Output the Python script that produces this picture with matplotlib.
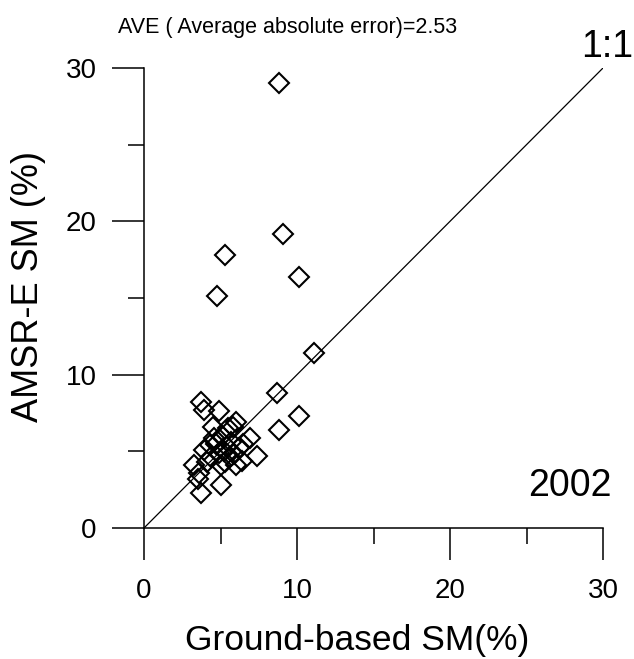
import matplotlib
matplotlib.use('Agg')
import matplotlib.pyplot as plt
from matplotlib.ticker import MultipleLocator

plt.rcParams['font.family'] = ['Liberation Sans', 'DejaVu Sans']

# ground-based SM (%) vs AMSR-E SM (%), 2002
ground = [8.8, 9.1, 5.3, 10.1, 4.8, 11.1, 8.7, 10.1, 8.8,
          3.7, 3.9, 4.9, 6.0, 5.8, 4.5, 5.5, 6.9, 5.1, 4.3, 3.9,
          7.4, 6.2, 4.9, 5.6, 5.3, 3.3, 3.6, 3.5, 5.0, 3.7, 6.0,
          5.7, 4.7, 5.2, 4.4, 6.4, 5.0, 4.6, 5.4, 6.5, 4.1, 5.9]
amsre = [29.0, 19.2, 17.8, 16.4, 15.1, 11.4, 8.8, 7.3, 6.4,
         8.2, 7.7, 7.6, 6.9, 6.6, 6.6, 6.5, 5.9, 6.0, 5.4, 5.1,
         4.7, 5.2, 4.9, 4.6, 4.3, 4.1, 3.6, 3.2, 2.8, 2.3, 4.1,
         5.6, 5.5, 5.0, 4.6, 4.4, 4.1, 5.9, 5.3, 5.5, 4.3, 4.8]
one_to_one = [0, 30]

W, H = 634, 659
fig = plt.figure(figsize=(W / 100, H / 100), dpi=100)
ax = fig.add_axes([144 / W, 1 - 528 / H, (603 - 144) / W, (528 - 68) / H])

ax.plot(one_to_one, one_to_one, color='black', lw=0.9, zorder=1)
ax.plot(ground, amsre, linestyle='none', marker='D', ms=10,
        markerfacecolor='none', markeredgecolor='black', markeredgewidth=1.5,
        clip_on=False, zorder=2)

ax.set_xlim(0, 30)
ax.set_ylim(0, 30)
for s in ['top', 'right']:
    ax.spines[s].set_visible(False)
for s in ['left', 'bottom']:
    ax.spines[s].set_linewidth(1.1)

ax.xaxis.set_major_locator(MultipleLocator(10))
ax.xaxis.set_minor_locator(MultipleLocator(5))
ax.yaxis.set_major_locator(MultipleLocator(10))
ax.yaxis.set_minor_locator(MultipleLocator(5))
ax.tick_params(which='major', direction='out', length=23, width=1.1, labelsize=20)
ax.tick_params(which='minor', direction='out', length=11.5, width=1.1)
ax.tick_params(axis='x', which='major', pad=13)
ax.tick_params(axis='y', which='major', pad=11)

fig.text(357 / W, 1 - 650 / H, 'Ground-based SM(%)', ha='center', va='baseline', fontsize=25.5)
fig.text(29 / W, 1 - 286 / H, 'AMSR-E SM (%)', ha='center', va='center', rotation=90, fontsize=26)
fig.text(288 / W, 1 - 33 / H, 'AVE ( Average absolute error)=2.53', ha='center', va='baseline', fontsize=15.5)
fig.text(633 / W, 1 - 57 / H, '1:1', ha='right', va='baseline', fontsize=27)
fig.text(612 / W, 1 - 496 / H, '2002', ha='right', va='baseline', fontsize=27)

fig.savefig('out.png', dpi=100)
